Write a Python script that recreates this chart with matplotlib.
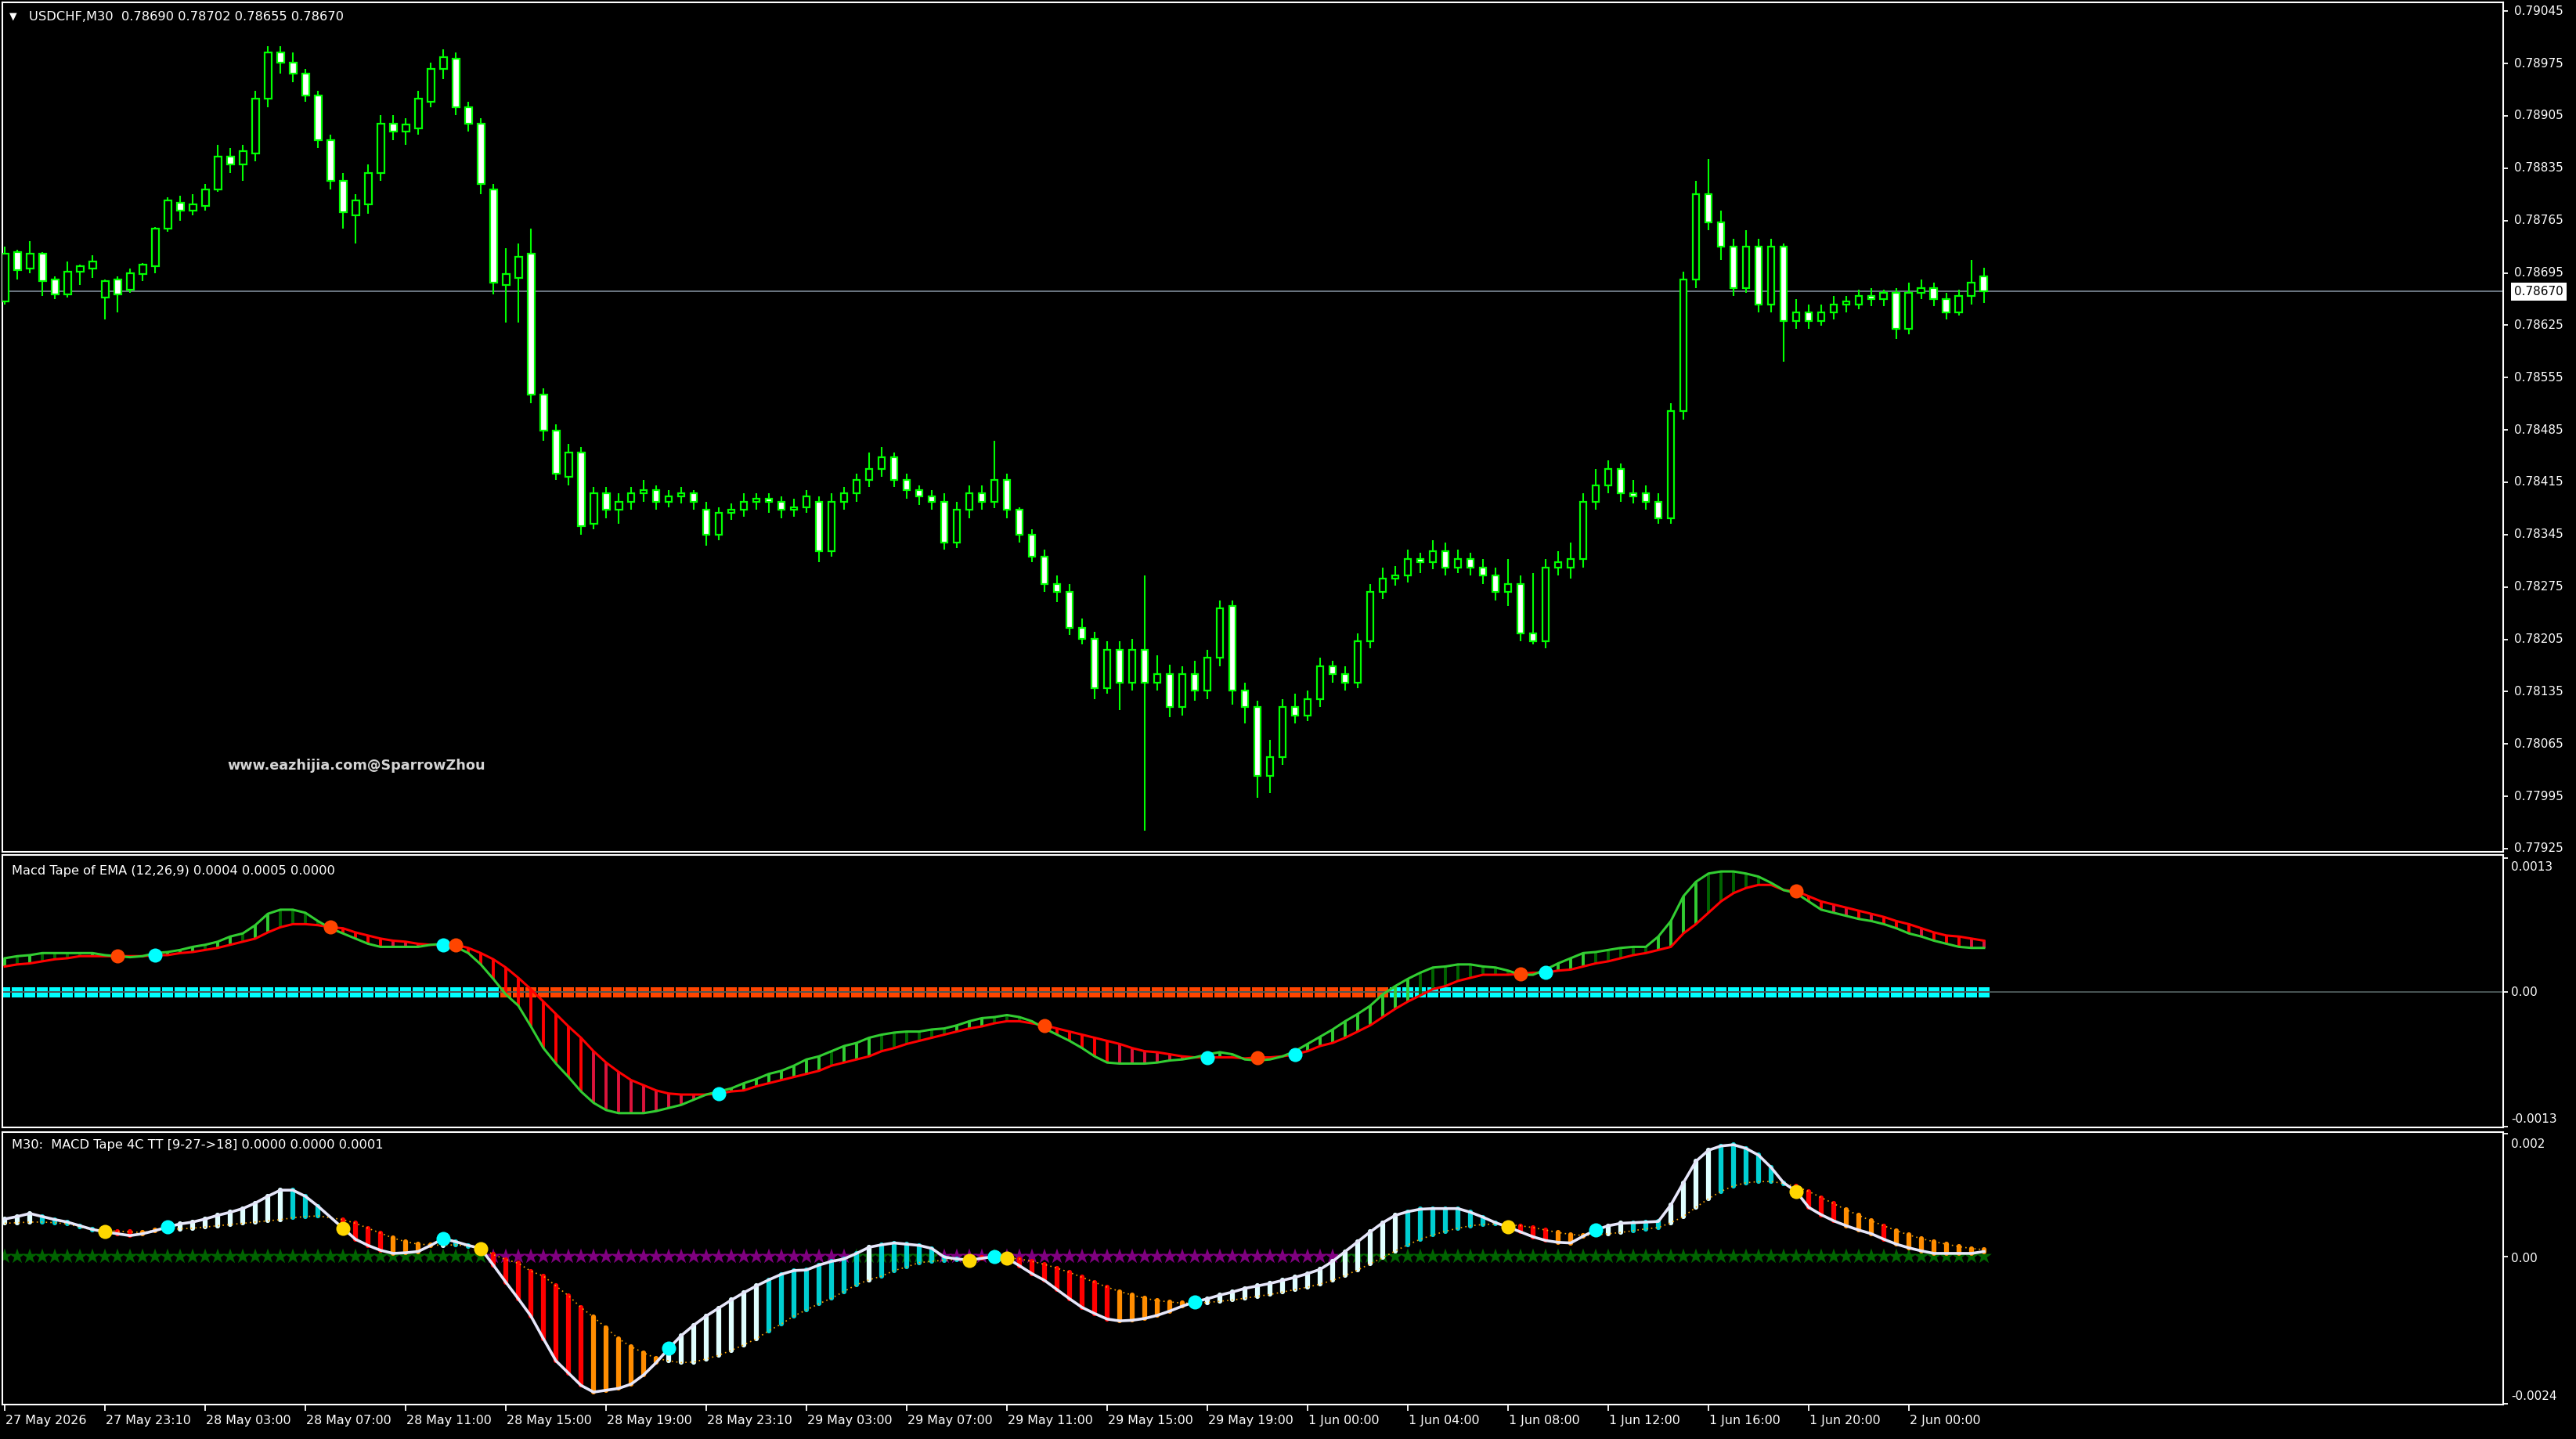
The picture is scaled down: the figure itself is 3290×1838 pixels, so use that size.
import numpy as np
import matplotlib
matplotlib.use("Agg")
import matplotlib.pyplot as plt
from matplotlib.transforms import blended_transform_factory

W, H = 3290, 1838

# USDCHF M30 candles, prices in points (1e-5)
open_pts = [
    78657, 78723, 78701, 78721, 78686, 78666, 78697, 78701, 78662, 78686,
    78673, 78693, 78704, 78754, 78789, 78778, 78785, 78807, 78851, 78840,
    78855, 78928, 78990, 78976, 78961, 78932, 78873, 78818, 78772, 78787,
    78829, 78895, 78884, 78888, 78924, 78968, 78981, 78917, 78895, 78807,
    78679, 78688, 78721, 78532, 78484, 78422, 78455, 78360, 78400, 78378,
    78389, 78400, 78404, 78389, 78396, 78400, 78378, 78345, 78374, 78378,
    78389, 78393, 78389, 78378, 78382, 78389, 78323, 78389, 78400, 78418,
    78433, 78448, 78418, 78404, 78396, 78389, 78334, 78378, 78400, 78389,
    78418, 78378, 78345, 78316, 78279, 78268, 78220, 78206, 78140, 78191,
    78147, 78191, 78147, 78158, 78114, 78158, 78136, 78180, 78250, 78136,
    78114, 78022, 78048, 78114, 78103, 78125, 78169, 78158, 78147, 78202,
    78268, 78286, 78290, 78312, 78308, 78323, 78301, 78312, 78301, 78290,
    78268, 78279, 78213, 78202, 78301, 78301, 78312, 78389, 78411, 78433,
    78400, 78400, 78389, 78367, 78510, 78686, 78800, 78763, 78730, 78675,
    78730, 78653, 78730, 78631, 78642, 78631, 78642, 78653, 78653, 78664,
    78660, 78668, 78620, 78668, 78675, 78660, 78642, 78664, 78690,
]
high_pts = [
    78730, 78726, 78737, 78723, 78690, 78710, 78706, 78719, 78686, 78690,
    78701, 78708, 78756, 78796, 78798, 78800, 78814, 78866, 78862, 78866,
    78939, 78998, 78998, 78990, 78968, 78939, 78880, 78829, 78800, 78840,
    78906, 78906, 78902, 78939, 78976, 78994, 78990, 78924, 78902, 78814,
    78728, 78734, 78754, 78541, 78492, 78466, 78462, 78409, 78409, 78400,
    78409, 78418, 78411, 78404, 78409, 78404, 78389, 78382, 78387, 78400,
    78400, 78400, 78396, 78393, 78404, 78396, 78400, 78409, 78426, 78455,
    78462, 78455, 78426, 78411, 78404, 78400, 78389, 78411, 78411, 78470,
    78426, 78382, 78352, 78325, 78290, 78279, 78233, 78215, 78202, 78202,
    78206, 78290, 78184, 78171, 78169, 78176, 78191, 78257, 78257, 78147,
    78123, 78070, 78125, 78132, 78136, 78180, 78176, 78169, 78213, 78279,
    78301, 78303, 78325, 78321, 78338, 78334, 78325, 78321, 78312, 78301,
    78312, 78290, 78294, 78312, 78323, 78334, 78400, 78433, 78444, 78440,
    78418, 78411, 78400, 78521, 78697, 78818, 78847, 78778, 78741, 78752,
    78741, 78741, 78734, 78660, 78653, 78653, 78664, 78664, 78673, 78675,
    78673, 78675, 78682, 78686, 78682, 78668, 78673, 78712, 78702,
]
low_pts = [
    78653, 78686, 78695, 78664, 78660, 78662, 78679, 78688, 78633, 78642,
    78668, 78684, 78695, 78750, 78765, 78772, 78778, 78803, 78829, 78818,
    78844, 78917, 78961, 78950, 78924, 78862, 78807, 78754, 78734, 78774,
    78818, 78873, 78866, 78880, 78917, 78954, 78906, 78884, 78800, 78666,
    78629, 78629, 78521, 78470, 78418, 78411, 78345, 78352, 78367, 78360,
    78378, 78389, 78378, 78382, 78387, 78378, 78330, 78338, 78365, 78369,
    78378, 78374, 78367, 78369, 78374, 78308, 78316, 78378, 78389, 78409,
    78422, 78409, 78393, 78385, 78378, 78325, 78327, 78367, 78378, 78380,
    78367, 78334, 78308, 78268, 78255, 78211, 78198, 78125, 78132, 78110,
    78136, 77949, 78136, 78101, 78103, 78123, 78125, 78169, 78118, 78092,
    77993, 77999, 78037, 78092, 78096, 78114, 78147, 78136, 78140, 78193,
    78259, 78277, 78281, 78294, 78299, 78290, 78294, 78290, 78279, 78257,
    78250, 78202, 78198, 78193, 78290, 78286, 78301, 78378, 78400, 78389,
    78387, 78378, 78360, 78360, 78499, 78675, 78752, 78712, 78664, 78668,
    78642, 78642, 78576, 78620, 78620, 78624, 78633, 78642, 78646, 78651,
    78651, 78607, 78613, 78660, 78651, 78633, 78638, 78653, 78655,
]
close_pts = [
    78721, 78699, 78721, 78684, 78666, 78697, 78704, 78710, 78684, 78666,
    78695, 78706, 78754, 78792, 78778, 78787, 78807, 78851, 78840, 78858,
    78928, 78990, 78976, 78961, 78932, 78873, 78818, 78776, 78792, 78829,
    78895, 78884, 78893, 78928, 78968, 78983, 78917, 78895, 78814, 78682,
    78693, 78717, 78532, 78484, 78426, 78455, 78356, 78400, 78378, 78389,
    78400, 78404, 78389, 78396, 78400, 78389, 78345, 78374, 78378, 78389,
    78393, 78389, 78378, 78382, 78396, 78323, 78389, 78400, 78418, 78433,
    78448, 78418, 78404, 78396, 78389, 78334, 78378, 78400, 78389, 78418,
    78378, 78345, 78316, 78279, 78268, 78220, 78206, 78140, 78191, 78147,
    78191, 78147, 78158, 78114, 78158, 78136, 78180, 78246, 78136, 78114,
    78022, 78048, 78114, 78103, 78125, 78169, 78158, 78147, 78202, 78268,
    78286, 78290, 78312, 78308, 78323, 78301, 78312, 78301, 78290, 78268,
    78279, 78213, 78202, 78301, 78308, 78312, 78389, 78411, 78433, 78400,
    78396, 78389, 78367, 78510, 78686, 78800, 78763, 78730, 78675, 78730,
    78653, 78730, 78631, 78642, 78631, 78642, 78653, 78657, 78664, 78660,
    78668, 78620, 78668, 78675, 78660, 78642, 78664, 78682, 78670,
]

# Macd Tape of EMA (12,26,9), values in 1e-4
tape_macd = [
    3.3, 3.5, 3.6, 3.8, 3.8, 3.8, 3.8, 3.8, 3.6, 3.5,
    3.4, 3.5, 3.8, 3.9, 4.1, 4.4, 4.6, 4.9, 5.4, 5.7,
    6.5, 7.6, 8.0, 8.0, 7.7, 6.9, 6.2, 5.7, 5.2, 4.7,
    4.4, 4.4, 4.4, 4.4, 4.6, 4.7, 4.4, 3.8, 2.7, 1.3,
    -0.2, -1.3, -3.3, -5.4, -6.9, -8.2, -9.6, -10.7, -11.4, -11.7,
    -11.7, -11.7, -11.5, -11.2, -10.9, -10.4, -9.9, -9.6, -9.3, -8.8,
    -8.4, -7.9, -7.6, -7.1, -6.5, -6.2, -5.7, -5.2, -4.9, -4.4,
    -4.1, -3.9, -3.8, -3.8, -3.6, -3.5, -3.2, -2.8, -2.5, -2.4,
    -2.2, -2.4, -2.8, -3.5, -4.1, -4.7, -5.4, -6.2, -6.8, -6.9,
    -6.9, -6.9, -6.8, -6.6, -6.5, -6.3, -6.0, -5.8, -6.0, -6.5,
    -6.6, -6.5, -6.2, -5.7, -5.0, -4.3, -3.6, -2.8, -2.1, -1.3,
    -0.2, 0.6, 1.3, 1.9, 2.4, 2.5, 2.7, 2.7, 2.5, 2.4,
    2.1, 1.7, 1.7, 2.2, 2.8, 3.3, 3.8, 3.9, 4.1, 4.3,
    4.4, 4.4, 5.4, 6.9, 9.3, 10.7, 11.5, 11.7, 11.7, 11.5,
    11.2, 10.6, 9.9, 9.6, 8.8, 8.0, 7.7, 7.4, 7.1, 6.9,
    6.6, 6.2, 5.7, 5.4, 5.0, 4.7, 4.4, 4.3, 4.3,
]
tape_signal = [
    2.5, 2.7, 2.8, 3.0, 3.2, 3.3, 3.5, 3.5, 3.5, 3.5,
    3.5, 3.5, 3.6, 3.6, 3.8, 3.9, 4.1, 4.3, 4.6, 4.9,
    5.2, 5.8, 6.3, 6.6, 6.6, 6.5, 6.3, 6.2, 5.8, 5.5,
    5.2, 5.0, 4.9, 4.7, 4.6, 4.6, 4.6, 4.3, 3.8, 3.2,
    2.4, 1.4, 0.3, -0.9, -2.1, -3.3, -4.4, -5.7, -6.8, -7.7,
    -8.5, -9.0, -9.5, -9.8, -9.9, -9.9, -9.9, -9.8, -9.6, -9.5,
    -9.1, -8.8, -8.5, -8.2, -7.9, -7.6, -7.1, -6.8, -6.5, -6.2,
    -5.7, -5.4, -5.0, -4.7, -4.4, -4.1, -3.8, -3.5, -3.3, -3.0,
    -2.8, -2.8, -3.0, -3.2, -3.5, -3.8, -4.1, -4.4, -4.7, -5.0,
    -5.4, -5.7, -5.8, -6.0, -6.2, -6.3, -6.3, -6.3, -6.3, -6.4,
    -6.3, -6.3, -6.2, -6.0, -5.7, -5.2, -4.9, -4.4, -3.8, -3.2,
    -2.4, -1.6, -0.9, -0.3, 0.3, 0.6, 1.1, 1.4, 1.7, 1.7,
    1.7, 1.8, 1.9, 1.9, 2.1, 2.2, 2.5, 2.8, 3.0, 3.3,
    3.6, 3.8, 4.1, 4.4, 5.7, 6.6, 7.7, 8.8, 9.6, 10.1,
    10.4, 10.4, 9.9, 9.8, 9.3, 8.8, 8.5, 8.2, 7.9, 7.6,
    7.3, 6.9, 6.6, 6.2, 5.8, 5.5, 5.4, 5.2, 5.0,
]
tape_bull_cross = [12, 35, 57, 96, 103, 123]
tape_bear_cross = [9, 26, 36, 83, 100, 121, 143]

# MACD Tape 4C TT [9-27->18], values in 1e-4
c4_macd = [
    6.1, 6.5, 7.0, 6.5, 6.0, 5.6, 5.0, 4.4, 4.0, 3.7,
    3.4, 3.7, 4.2, 4.8, 5.3, 5.6, 6.1, 6.7, 7.2, 7.8,
    8.7, 9.8, 10.8, 10.8, 9.8, 8.2, 6.4, 4.6, 2.8, 1.8,
    1.0, 0.5, 0.6, 0.8, 1.8, 2.9, 2.4, 1.8, 1.3, -1.4,
    -4.2, -6.9, -9.7, -13.4, -17.0, -19.0, -21.0, -22.1, -21.8, -21.5,
    -20.8, -19.3, -17.3, -15.0, -12.9, -11.2, -9.7, -8.4, -7.1, -5.9,
    -4.8, -3.8, -2.9, -2.3, -2.2, -1.4, -0.8, -0.4, 0.5, 1.5,
    1.9, 2.2, 2.0, 1.8, 1.3, -0.1, -0.4, -0.6, -0.3, 0.0,
    -0.3, -1.5, -2.8, -3.9, -5.4, -6.9, -8.3, -9.3, -10.2, -10.5,
    -10.4, -10.1, -9.6, -8.9, -8.1, -7.4, -6.9, -6.3, -5.8, -5.2,
    -4.8, -4.4, -3.9, -3.4, -2.8, -2.1, -0.8, 0.8, 2.4, 4.0,
    5.5, 6.7, 7.3, 7.7, 7.8, 7.8, 7.8, 7.2, 6.4, 5.5,
    4.8, 4.0, 3.2, 2.6, 2.3, 2.2, 3.3, 4.3, 5.0, 5.4,
    5.5, 5.6, 5.7, 8.4, 12.0, 15.5, 17.3, 18.0, 18.2, 17.6,
    16.5, 14.5, 12.0, 10.6, 8.0, 6.8, 5.8, 5.0, 4.3, 3.7,
    2.8, 2.0, 1.4, 0.9, 0.5, 0.5, 0.5, 0.5, 0.8,
]
c4_signal = [
    5.4, 5.5, 5.6, 5.6, 5.5, 5.3, 4.8, 4.3, 4.3, 4.1,
    4.0, 3.9, 4.3, 4.4, 4.5, 4.6, 4.8, 5.0, 5.2, 5.4,
    5.6, 5.8, 6.0, 6.3, 6.5, 6.6, 6.3, 6.0, 5.4, 4.6,
    3.8, 3.0, 2.4, 2.0, 1.9, 1.8, 1.9, 1.7, 1.5, 0.3,
    -0.5, -1.1, -2.4, -3.2, -4.8, -6.4, -8.3, -9.9, -11.6, -13.4,
    -14.7, -15.7, -16.6, -17.0, -17.3, -17.2, -16.7, -16.1, -15.3, -14.4,
    -13.4, -12.1, -11.0, -9.7, -8.7, -7.7, -6.8, -5.7, -4.6, -3.8,
    -3.2, -2.3, -1.7, -1.0, -0.8, -0.6, -0.5, -0.5, -0.2, -0.2,
    -0.2, -0.4, -0.8, -1.3, -1.9, -2.6, -3.4, -4.2, -5.0, -5.7,
    -6.3, -6.8, -7.2, -7.4, -7.6, -7.6, -7.5, -7.3, -7.1, -6.8,
    -6.5, -6.2, -5.8, -5.4, -5.0, -4.5, -3.9, -3.1, -2.2, -1.2,
    -0.2, 0.9, 1.9, 2.8, 3.5, 4.1, 4.6, 5.0, 5.2, 5.3,
    5.2, 5.0, 4.7, 4.3, 3.9, 3.6, 3.4, 3.5, 3.7, 3.9,
    4.2, 4.5, 4.7, 5.5, 6.5, 8.0, 9.4, 10.6, 11.5, 12.0,
    12.2, 12.2, 11.9, 11.4, 10.6, 9.6, 8.6, 7.6, 6.7, 5.8,
    5.0, 4.2, 3.5, 2.9, 2.4, 2.0, 1.6, 1.3, 1.1,
]
c4_bull_cross = [13, 35, 53, 79, 95, 127]
c4_bear_cross = [8, 27, 38, 77, 80, 120, 143]

time_labels = [
    "27 May 2026", "27 May 23:10", "28 May 03:00", "28 May 07:00", "28 May 11:00",
    "28 May 15:00", "28 May 19:00", "28 May 23:10", "29 May 03:00", "29 May 07:00",
    "29 May 11:00", "29 May 15:00", "29 May 19:00", "1 Jun 00:00", "1 Jun 04:00",
    "1 Jun 08:00", "1 Jun 12:00", "1 Jun 16:00", "1 Jun 20:00", "2 Jun 00:00",
]
bars_per_label = 8
price_ticks = ["0.79045", "0.78975", "0.78905", "0.78835", "0.78765", "0.78695",
               "0.78625", "0.78555", "0.78485", "0.78415", "0.78345", "0.78275",
               "0.78205", "0.78135", "0.78065", "0.77995", "0.77925"]
last_price = 0.78670

plt.rcParams['font.family'] = ['DejaVu Sans']
fig = plt.figure(figsize=(W / 100, H / 100), dpi=100, facecolor='black')


def make_panel(top, bottom):
    ax = fig.add_axes([3 / W, 1 - bottom / H, 3194 / W, (bottom - top) / H])
    ax.set_facecolor('black')
    for s in ax.spines.values():
        s.set_color('white')
        s.set_linewidth(1.5)
    ax.set_xlim(-0.19, 199.44)
    ax.yaxis.tick_right()
    ax.tick_params(axis='y', colors='white', direction='out', length=4, width=1.3,
                   labelright=False, labelleft=False)
    ax.tick_params(axis='x', bottom=False, labelbottom=False)
    return ax


def panel_label(ax, top, bottom, ypx, text, xpx=3207):
    ax.text((xpx - 3) / 3194, (bottom - ypx) / (bottom - top), text, transform=ax.transAxes,
            color='white', fontsize=11, ha='left', va='center', clip_on=False)


# ---------------- main price panel ----------------
ax1 = make_panel(3, 1088)
ax1.set_ylim(0.779208, 0.790568)
n = len(close_pts)
x = np.arange(n)
o = np.array(open_pts) / 1e5
h = np.array(high_pts) / 1e5
l = np.array(low_pts) / 1e5
c = np.array(close_pts) / 1e5
bull = c >= o

ax1.axhline(last_price, color='#7d8b98', lw=1.2, zorder=1)
ax1.vlines(x, l, h, color='#00ff00', lw=1.5, zorder=2)
ax1.bar(x, np.abs(c - o), bottom=np.minimum(o, c), width=0.56,
        color=np.where(bull, 'black', 'white'), edgecolor='#00ff00', linewidth=1.6, zorder=3)

ticks = [float(t) for t in price_ticks]
ax1.set_yticks(ticks)
ytr = ax1.get_yaxis_transform()
for t in price_ticks:
    ax1.text((3211 - 3) / 3194, float(t), t, transform=ytr, color='white', fontsize=11,
             ha='left', va='center', clip_on=False)
ax1.text((3211 - 3) / 3194, last_price, f"{last_price:.5f}", transform=ytr, color='black',
         fontsize=11, ha='left', va='center', clip_on=False, zorder=10,
         bbox=dict(boxstyle='square,pad=0.25', facecolor='white', edgecolor='none'))

fig.text(16.5 / W, 1 - 21 / H, "\u25bc", color='white', fontsize=9, ha='center', va='center')
fig.text(37 / W, 1 - 22 / H, "USDCHF,M30  0.78690 0.78702 0.78655 0.78670", color='white',
         fontsize=11.7, ha='left', va='center')
fig.text(290 / W, 1 - 978 / H, "www.eazhijia.com@SparrowZhou", color='#d4d4d4',
         fontsize=12.7, fontweight='bold', ha='left', va='center')

# ---------------- Macd Tape of EMA ----------------
ax2 = make_panel(1092, 1440)
ax2.set_ylim(-0.001308, 0.00133)
m2 = np.array(tape_macd) * 1e-4
s2 = np.array(tape_signal) * 1e-4
d2 = m2 - s2
cols2 = []
for i in range(n):
    grow = i == 0 or abs(d2[i]) >= abs(d2[i - 1])
    if d2[i] >= 0:
        cols2.append('#32cd32' if grow else '#006400')
    else:
        cols2.append('#ff0000' if grow else '#dc143c')
ax2.scatter(x, np.zeros(n), marker='s', s=9.5 ** 2, linewidths=0, zorder=1,
            c=np.where(m2 >= 0, '#00ffff', '#ff4500'))
ax2.axhline(0, color='#4a5656', lw=1.4, zorder=2)
ax2.vlines(x, np.minimum(m2, s2), np.maximum(m2, s2), colors=cols2, lw=2.8, zorder=3)
ax2.plot(x, s2, color='#ff0000', lw=2.2, zorder=4)
ax2.plot(x, m2, color='#32cd32', lw=2.2, zorder=4)
ax2.plot(tape_bull_cross, s2[tape_bull_cross], 'o', color='#00ffff', ms=13, mec='none', zorder=6)
ax2.plot(tape_bear_cross, s2[tape_bear_cross], 'o', color='#ff4500', ms=13, mec='none', zorder=6)
ax2.set_yticks([0.0013, 0, -0.0013])
panel_label(ax2, 1092, 1440, 1107, "0.0013")
panel_label(ax2, 1092, 1440, 1267, "0.00")
panel_label(ax2, 1092, 1440, 1429, "-0.0013")
fig.text(15 / W, 1 - 1113 / H, "Macd Tape of EMA (12,26,9) 0.0004 0.0005 0.0000",
         color='white', fontsize=11.7, ha='left', va='center')

# ---------------- MACD Tape 4C TT ----------------
ax3 = make_panel(1446, 1794)
ax3.set_ylim(-0.002413, 0.002026)
m3 = np.array(c4_macd) * 1e-4
s3 = np.array(c4_signal) * 1e-4
d3 = m3 - s3
cols3 = []
for i in range(n):
    grow = i == 0 or abs(d3[i]) >= abs(d3[i - 1])
    if d3[i] >= 0:
        cols3.append('#e0ffff' if grow else '#00ced1')
    else:
        cols3.append('#ff0000' if grow else '#ff8c00')
ax3.scatter(x, np.zeros(n), marker='*', s=15 ** 2, linewidths=0, zorder=1,
            c=np.where(m3 >= 0, '#006400', '#800080'))
lc = ax3.vlines(x, np.minimum(m3, s3), np.maximum(m3, s3), colors=cols3, lw=4.5, zorder=2)
lc.set_capstyle('round')
ax3.plot(x, s3, color='#ffa500', lw=1.2, ls=(0, (1, 2.5)), zorder=3)
ax3.plot(x, m3, color='#e6e6fa', lw=2.6, zorder=4)
ax3.plot(c4_bull_cross, m3[c4_bull_cross], 'o', color='#00ffff', ms=13, mec='none', zorder=6)
ax3.plot(c4_bear_cross, m3[c4_bear_cross], 'o', color='#ffd700', ms=13, mec='none', zorder=6)
ax3.set_yticks([0.002, 0, -0.0024])
panel_label(ax3, 1446, 1794, 1462, "0.002")
panel_label(ax3, 1446, 1794, 1607, "0.00")
panel_label(ax3, 1446, 1794, 1783, "-0.0024")
fig.text(15 / W, 1 - 1463 / H, "M30:  MACD Tape 4C TT [9-27->18] 0.0000 0.0000 0.0001",
         color='white', fontsize=11.7, ha='left', va='center')

# time axis
tick_pos = [k * bars_per_label for k in range(len(time_labels))]
ax3.set_xticks(tick_pos)
ax3.tick_params(axis='x', bottom=True, direction='out', length=6, width=1.3,
                color='white', labelbottom=False)
xtr = blended_transform_factory(ax3.transData, ax3.transAxes)
for p, lab in zip(tick_pos, time_labels):
    ax3.text(p + 0.05, -21 / 348, lab, transform=xtr, color='white', fontsize=11.4,
             ha='left', va='center', clip_on=False)

fig.savefig('out.png', dpi=100, facecolor='black')
